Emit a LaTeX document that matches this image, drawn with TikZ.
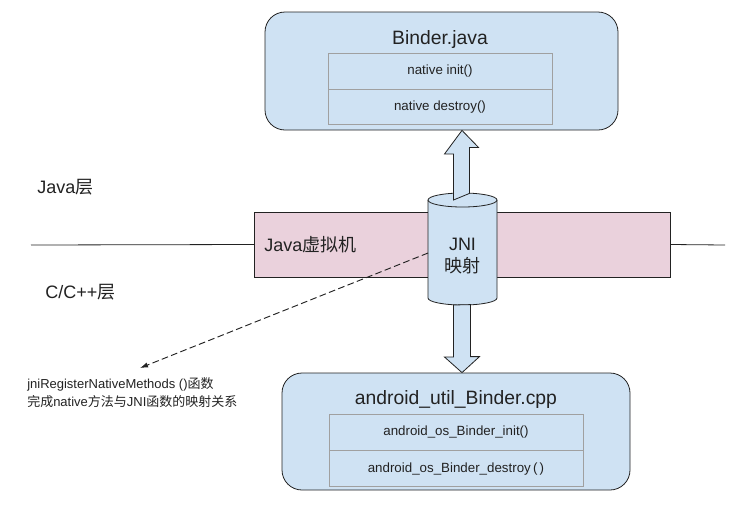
\documentclass[tikz,border=0pt]{standalone}
\usepackage{fontspec}
\setmainfont{Liberation Sans}
\newfontfamily\cjk{Noto Sans CJK SC}
\usetikzlibrary{arrows.meta}

\definecolor{boxblue}{RGB}{207,226,243}
\definecolor{vmpink}{RGB}{234,209,220}
\definecolor{rowgray}{RGB}{160,160,160}
\definecolor{inkdark}{RGB}{34,34,34}

\begin{document}
\begin{tikzpicture}[x=0.75pt, y=-0.75pt, every node/.style={text=inkdark, inner sep=0pt},
    filebox/.style={draw=inkdark, fill=boxblue, rectangle, rounded corners=15pt, line width=0.6pt},
    rowbox/.style={draw=rowgray, fill=boxblue, rectangle, line width=0.5pt, font=\fontsize{10}{12}\selectfont},
    layer/.style={font=\fontsize{13.5}{16}\selectfont, anchor=west},
    pipe/.style={draw=inkdark, fill=boxblue, line width=0.6pt, line join=miter}]
    \useasboundingbox (0,0) rectangle (747,515);

    % Java virtual machine band
    \node[draw=inkdark, fill=vmpink, rectangle, minimum width=312pt, minimum height=48.75pt] (vm) at (462.5,244.5) {};
    \node[layer] (vmlabel) at (264,245) {Java{\cjk 虚拟机}};
    \draw[inkdark, line width=0.6pt] (31,245) -- (vm.west);
    \draw[inkdark, line width=0.6pt] (vm.east) -- (725,245);

    % Layer labels
    \node[layer] (javalayer) at (37,187) {Java{\cjk 层}};
    \node[layer] (clayer) at (45,292) {C/C++{\cjk 层}};

    % Java side
    \node[filebox, minimum width=264.75pt, minimum height=88.5pt] (javabox) at (441.5,71) {};
    \node[font=\fontsize{14.5}{16}\selectfont] (javatitle) at (440,39) {Binder.java};
    \node[rowbox, minimum width=168pt, minimum height=27pt] (nativeinit) at (440,71) {native init()};
    \node[rowbox, minimum width=168pt, minimum height=26.25pt, anchor=north] (nativedestroy) at (nativeinit.south) {native destroy()};

    % C++ side
    \node[filebox, minimum width=261pt, minimum height=87.75pt] (cppbox) at (456,431.5) {};
    \node[font=\fontsize{14.5}{16}\selectfont] (cpptitle) at (456,399) {android\_util\_Binder.cpp};
    \node[rowbox, minimum width=190.5pt, minimum height=27pt] (bindinit) at (456,432) {android\_os\_Binder\_init()};
    \node[rowbox, minimum width=190.5pt, minimum height=27pt, anchor=north] (binddestroy) at (bindinit.south) {android\_os\_Binder\_destroy\,(\,)};

    % JNI mapping
    \draw[pipe] (428,200) -- (428,298) arc[start angle=180, end angle=0, x radius=34.5, y radius=7] -- (497,200);
    \draw[pipe] (462.5,200) ellipse [x radius=34.5, y radius=7];
    \node[align=center, font=\fontsize{13.5}{17}\selectfont] (jni) at (462.5,256) {JNI\\{\cjk 映射}};
    \coordinate (jnitop) at (462,200);
    \coordinate (jnibottom) at (462,305);

    % Arrows to both sides
    \draw[pipe] (jnitop) ++(-8.5,0) -- ++(0,-46) -- ++(-9,0) -- (javabox.south -| jnitop)
        -- ++(16.5,17) -- ++(-9,0) -- ++(0,46) -- cycle;
    \draw[pipe] (jnibottom) ++(-8.5,0) -- ++(0,52) -- ++(-9,0) -- (cppbox.north -| jnibottom)
        -- ++(17.5,-16) -- ++(-9,0) -- ++(0,-52) -- cycle;

    % Registration note
    \coordinate (noteend) at (140,368);
    \draw[inkdark, line width=0.7pt, dash pattern=on 5pt off 2.5pt, -{Latex[length=6pt, width=4pt]}] (428,253) -- (noteend);
    \node[anchor=north west, align=left, font=\fontsize{9.75}{13.5}\selectfont] (note) at (27,377)
        {jniRegisterNativeMethods (){\cjk 函数}\\{\cjk 完成}native{\cjk 方法与}JNI{\cjk 函数的映射关系}};
\end{tikzpicture}
\end{document}
